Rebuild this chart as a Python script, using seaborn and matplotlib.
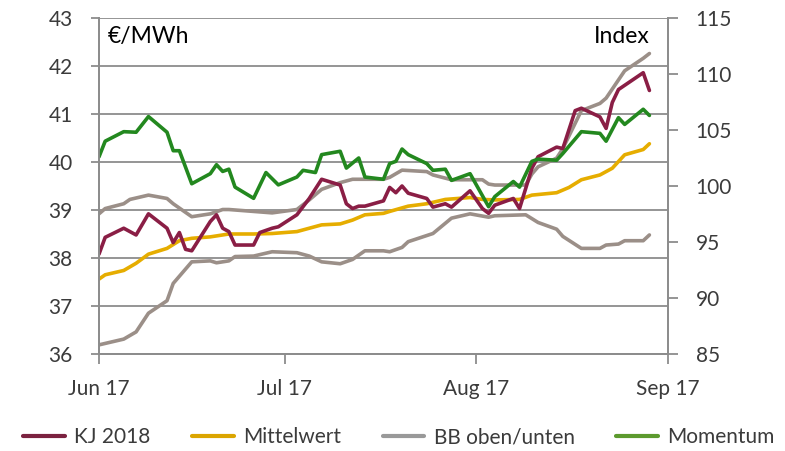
import matplotlib
matplotlib.use("Agg")
import matplotlib.pyplot as plt
import matplotlib.dates as mdates
import seaborn as sns
import pandas as pd

# KJ 2018 (EUR/MWh, left axis)
kj_dates = ["06-01", "06-02", "06-05", "06-07", "06-09", "06-12", "06-13", "06-14", "06-15", "06-16",
            "06-19", "06-20", "06-21", "06-22", "06-23", "06-26", "06-27", "06-29", "06-30", "07-03",
            "07-05", "07-07", "07-10", "07-11", "07-12", "07-13", "07-14", "07-17", "07-18", "07-19",
            "07-20", "07-21", "07-24", "07-25", "07-27", "07-28", "07-31", "08-02", "08-03", "08-04",
            "08-07", "08-08", "08-10", "08-11", "08-14", "08-15", "08-17", "08-18", "08-21", "08-22",
            "08-23", "08-24", "08-28", "08-29"]
kj_values = [38.08, 38.43, 38.62, 38.48, 38.92, 38.62, 38.32, 38.53, 38.18, 38.15,
             38.76, 38.90, 38.62, 38.55, 38.27, 38.27, 38.53, 38.62, 38.65, 38.90,
             39.24, 39.64, 39.52, 39.13, 39.03, 39.08, 39.08, 39.19, 39.47, 39.36,
             39.50, 39.35, 39.24, 39.06, 39.13, 39.06, 39.40, 39.03, 38.93, 39.10,
             39.24, 39.03, 39.87, 40.11, 40.31, 40.28, 41.07, 41.12, 40.94, 40.70,
             41.24, 41.51, 41.86, 41.49]

# Mittelwert (left axis)
mw_dates = ["06-01", "06-02", "06-05", "06-07", "06-09", "06-12", "06-14", "06-16", "06-19", "06-22",
            "06-26", "06-29", "07-03", "07-07", "07-10", "07-12", "07-14", "07-17", "07-18", "07-21",
            "07-24", "07-27", "07-31", "08-02", "08-04", "08-08", "08-10", "08-14", "08-16", "08-18",
            "08-21", "08-23", "08-25", "08-28", "08-29"]
mw_values = [37.56, 37.65, 37.74, 37.89, 38.08, 38.20, 38.36, 38.41, 38.44, 38.50,
             38.50, 38.51, 38.55, 38.69, 38.71, 38.79, 38.90, 38.93, 38.97, 39.08,
             39.13, 39.22, 39.26, 39.22, 39.21, 39.22, 39.31, 39.36, 39.47, 39.63,
             39.73, 39.87, 40.15, 40.26, 40.38]

# Bollinger band, upper (left axis)
bb_up_dates = ["06-01", "06-02", "06-05", "06-06", "06-09", "06-12", "06-13", "06-16", "06-19", "06-21",
               "06-22", "06-26", "06-29", "07-03", "07-05", "07-07", "07-10", "07-12", "07-17", "07-18",
               "07-20", "07-24", "07-25", "07-28", "07-31", "08-02", "08-03", "08-04", "08-09", "08-10",
               "08-11", "08-14", "08-15", "08-18", "08-21", "08-22", "08-25", "08-28", "08-29"]
bb_up_values = [38.92, 39.03, 39.13, 39.22, 39.31, 39.24, 39.13, 38.86, 38.92, 39.01,
                39.01, 38.97, 38.94, 39.01, 39.21, 39.43, 39.57, 39.64, 39.64, 39.68,
                39.83, 39.80, 39.73, 39.63, 39.63, 39.63, 39.54, 39.52, 39.52, 39.75,
                39.90, 40.08, 40.28, 41.07, 41.22, 41.33, 41.90, 42.16, 42.26]

# Bollinger band, lower (left axis)
bb_lo_dates = ["06-01", "06-05", "06-07", "06-09", "06-12", "06-13", "06-16", "06-19", "06-20", "06-22",
               "06-23", "06-26", "06-29", "07-03", "07-05", "07-07", "07-10", "07-12", "07-14", "07-17",
               "07-18", "07-20", "07-21", "07-25", "07-28", "07-31", "08-03", "08-04", "08-09", "08-11",
               "08-14", "08-15", "08-18", "08-21", "08-22", "08-24", "08-25", "08-28", "08-29"]
bb_lo_values = [36.19, 36.31, 36.46, 36.85, 37.11, 37.47, 37.92, 37.94, 37.90, 37.94,
                38.03, 38.04, 38.13, 38.11, 38.04, 37.92, 37.88, 37.97, 38.15, 38.15,
                38.13, 38.22, 38.34, 38.51, 38.83, 38.92, 38.85, 38.88, 38.90, 38.74,
                38.60, 38.45, 38.20, 38.20, 38.27, 38.29, 38.36, 38.36, 38.48]

# Momentum (index, right axis)
mom_dates = ["06-01", "06-02", "06-05", "06-07", "06-09", "06-12", "06-13", "06-14", "06-16", "06-19",
             "06-20", "06-21", "06-22", "06-23", "06-26", "06-28", "06-30", "07-03", "07-04", "07-06",
             "07-07", "07-10", "07-11", "07-13", "07-14", "07-17", "07-18", "07-19", "07-20", "07-21",
             "07-24", "07-25", "07-27", "07-28", "07-31", "08-03", "08-04", "08-07", "08-08", "08-10",
             "08-11", "08-14", "08-15", "08-18", "08-21", "08-22", "08-24", "08-25", "08-28", "08-29"]
mom_values = [102.6, 104.0, 104.85, 104.8, 106.2, 104.8, 103.15, 103.15, 100.2, 101.1,
              101.9, 101.3, 101.5, 99.9, 98.9, 101.2, 100.1, 100.8, 101.4, 101.2,
              102.8, 103.1, 101.6, 102.5, 100.8, 100.6, 102.0, 102.2, 103.3, 102.8,
              102.0, 101.4, 101.5, 100.5, 101.1, 98.15, 99.05, 100.4, 99.9, 102.2,
              102.4, 102.3, 102.9, 104.85, 104.7, 104.0, 106.1, 105.5, 106.85, 106.3]

month_ticks = ["2017-06-01", "2017-07-01", "2017-08-01", "2017-09-01"]


def to_dt(days):
    return pd.to_datetime(["2017-" + d for d in days])


sns.set_style("white")
plt.rcParams['font.family'] = ['Lato', 'DejaVu Sans']

c_kj = "#8a1e45"
c_mw = "#e6ad00"
c_bb = "#9b8f88"
c_mom = "#23881f"
c_axis = "#8c8c8c"
c_text = "#3b3b3b"
lw = 2.6

fig = plt.figure(figsize=(7.85, 4.51), dpi=100)
ax = fig.add_axes([0.1261, 0.2151, 0.7248, 0.7450])
ax2 = ax.twinx()

sns.lineplot(x=to_dt(bb_lo_dates), y=bb_lo_values, ax=ax, color=c_bb, lw=lw)
sns.lineplot(x=to_dt(bb_up_dates), y=bb_up_values, ax=ax, color=c_bb, lw=lw)
sns.lineplot(x=to_dt(mw_dates), y=mw_values, ax=ax, color=c_mw, lw=lw)
sns.lineplot(x=to_dt(kj_dates), y=kj_values, ax=ax, color=c_kj, lw=lw)
sns.lineplot(x=to_dt(mom_dates), y=mom_values, ax=ax2, color=c_mom, lw=lw)

ax.set_xlim(pd.Timestamp("2017-06-01"), pd.Timestamp("2017-09-01"))
ax.set_ylim(36, 43)
ax.set_yticks(range(36, 44))
ax2.set_ylim(85, 115)
ax2.set_yticks(range(85, 116, 5))
ax.set_xticks(pd.to_datetime(month_ticks))
ax.xaxis.set_major_formatter(mdates.DateFormatter("%b %y"))

ax.grid(axis="y", color=c_axis, lw=1.3)
ax.grid(axis="x", visible=False)
ax2.grid(False)
ax.set_axisbelow(True)

for a in (ax, ax2):
    a.set_xlabel("")
    a.set_ylabel("")
    a.spines["top"].set_visible(False)
    for s in ("left", "right", "bottom"):
        a.spines[s].set_color(c_axis)
        a.spines[s].set_linewidth(1.3)

ax.tick_params(axis="y", which="major", length=6, width=1.3, color=c_axis,
               labelsize=15, labelcolor=c_text, pad=13, left=True, direction="out")
ax.tick_params(axis="x", which="major", length=7, width=1.3, color=c_axis,
               labelsize=15, labelcolor=c_text, pad=11, bottom=True, direction="out")
ax2.tick_params(axis="y", which="major", length=7, width=1.3, color=c_axis,
                labelsize=15, labelcolor=c_text, pad=13, right=True, direction="out")

ax.text(0.016, 0.925, "€/MWh", transform=ax.transAxes, fontsize=16.5, color="black",
        ha="left", va="baseline")
ax.text(0.968, 0.925, "Index", transform=ax.transAxes, fontsize=16.5, color="black",
        ha="right", va="baseline")

handles = [
    plt.Line2D([], [], color="#7b2240", lw=3),
    plt.Line2D([], [], color="#dba500", lw=3),
    plt.Line2D([], [], color="#999999", lw=3),
    plt.Line2D([], [], color="#5c9a2e", lw=3),
]
labels = ["KJ 2018", "Mittelwert", "BB oben/unten", "Momentum"]
fig.legend(handles, labels, loc="center", bbox_to_anchor=(0.508, 0.031), ncol=4,
           frameon=False, fontsize=15, handlelength=2.0, handletextpad=0.45,
           columnspacing=2.0, labelcolor=c_text)

fig.savefig("out.png", dpi=100)
